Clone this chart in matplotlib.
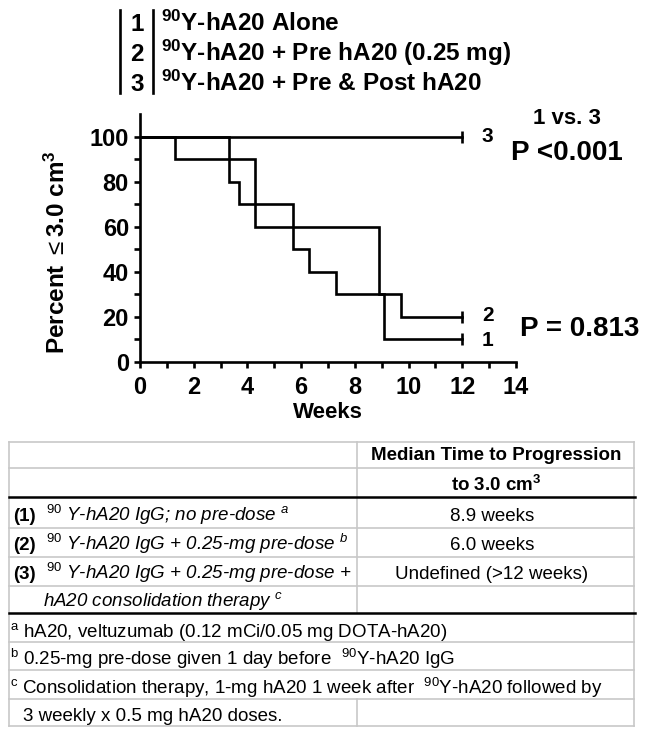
import matplotlib
matplotlib.use("Agg")
import matplotlib.pyplot as plt
from matplotlib.lines import Line2D

plt.rcParams['font.family'] = ['Liberation Sans', 'DejaVu Sans']
plt.rcParams['mathtext.fontset'] = 'custom'
plt.rcParams['mathtext.rm'] = 'Liberation Sans'
plt.rcParams['mathtext.it'] = 'Liberation Sans:italic'
plt.rcParams['mathtext.bf'] = 'Liberation Sans:bold'

# ---------------- data ----------------
weeks_1 = [0, 1.3, 4.3, 8.9, 9.1, 12]
pct_1 = [100, 90, 60, 30, 10, 10]
weeks_2 = [0, 3.3, 3.7, 5.7, 6.3, 7.3, 9.7, 12]
pct_2 = [100, 80, 70, 50, 40, 30, 20, 20]
weeks_3 = [0, 12]
pct_3 = [100, 100]
curve_ids = ["1", "2", "3"]
legend_labels = [r"$^{\mathbf{90}}$Y-hA20 Alone",
                 r"$^{\mathbf{90}}$Y-hA20 + Pre hA20 (0.25 mg)",
                 r"$^{\mathbf{90}}$Y-hA20 + Pre & Post hA20"]
x_ticks = [0, 2, 4, 6, 8, 10, 12, 14]
y_ticks = [0, 20, 40, 60, 80, 100]

table_header = ["Median Time to Progression", r"to 3.0 cm$^{\mathbf{3}}$"]
row_ids = ["(1)", "(2)", "(3)"]
row_texts = [r"$^{\mathit{90}}$ Y-hA20 IgG; no pre-dose $^{\mathit{a}}$",
             r"$^{\mathit{90}}$ Y-hA20 IgG + 0.25-mg pre-dose $^{\mathit{b}}$",
             r"$^{\mathit{90}}$ Y-hA20 IgG + 0.25-mg pre-dose +"]
row_cont = r"hA20 consolidation therapy $^{\mathit{c}}$"
row_medians = ["8.9 weeks", "6.0 weeks", "Undefined (>12 weeks)"]
footnotes = [r"$^{\mathrm{a}}$ hA20, veltuzumab (0.12 mCi/0.05 mg DOTA-hA20)",
             r"$^{\mathrm{b}}$ 0.25-mg pre-dose given 1 day before  $^{\mathrm{90}}$Y-hA20 IgG",
             r"$^{\mathrm{c}}$ Consolidation therapy, 1-mg hA20 1 week after  $^{\mathrm{90}}$Y-hA20 followed by",
             "3 weekly x 0.5 mg hA20 doses."]

# ---------------- figure ----------------
W, H = 645, 736
fig = plt.figure(figsize=(W / 100, H / 100), dpi=100)
fig.patch.set_facecolor('white')


def fx(x):
    return x / W


def fy(y):
    return 1 - y / H


def ftext(x, y, s, **kw):
    fig.text(fx(x), fy(y), s, **kw)


def fline(x0, y0, x1, y1, **kw):
    fig.add_artist(Line2D([fx(x0), fx(x1)], [fy(y0), fy(y1)], transform=fig.transFigure, **kw))


# ---------------- chart ----------------
ax = fig.add_axes([fx(140), fy(362), (516 - 140) / W, (362 - 114) / H])
ax.set_xlim(0, 14)
ax.set_ylim(0, 110)
for sp in ['top', 'right']:
    ax.spines[sp].set_visible(False)
for sp in ['left', 'bottom']:
    ax.spines[sp].set_linewidth(1.9)

lw = 1.9
for xs, ys in [(weeks_3, pct_3), (weeks_1, pct_1), (weeks_2, pct_2)]:
    ax.step(xs, ys, where='post', color='black', lw=lw, solid_joinstyle='miter')
    ax.plot([xs[-1]], [ys[-1]], marker='|', ms=8, mew=lw, color='black')

ax.set_xticks(x_ticks)
ax.set_xticks([1, 3, 5, 7, 9, 11, 13], minor=True)
ax.set_yticks(y_ticks)
ax.set_yticks([10, 30, 50, 70, 90], minor=True)
ax.tick_params(which='both', direction='out', length=4, width=1.9)
ax.tick_params(axis='x', which='major', pad=6, labelsize=17)
ax.tick_params(axis='y', which='major', pad=4, labelsize=17)
for lab in ax.get_xticklabels() + ax.get_yticklabels():
    lab.set_fontweight('bold')

ax.text(12.95, 100, curve_ids[2], fontsize=15, fontweight='bold', va='center', ha='center')
ax.text(12.95, 20.5, curve_ids[1], fontsize=15, fontweight='bold', va='center', ha='center')
ax.text(12.95, 9.5, curve_ids[0], fontsize=15, fontweight='bold', va='center', ha='center')

ftext(567, 119, "1 vs. 3", fontsize=16, fontweight='bold', ha='center', va='center')
ftext(567, 153, "P <0.001", fontsize=20, fontweight='bold', ha='center', va='center')
ftext(580, 329, "P = 0.813", fontsize=20, fontweight='bold', ha='center', va='center')

ftext(328, 412, "Weeks", fontsize=16, fontweight='bold', ha='center', va='center')
ftext(57, 252, r"Percent $\leq$3.0 cm$^{\mathbf{3}}$", fontsize=17.5, fontweight='bold',
      ha='center', va='center', rotation=90)

# ---------------- legend block ----------------
fline(120, 10, 120, 93, color='black', lw=1.9)
fline(153, 10, 153, 93, color='black', lw=1.9)
for cid, lab, yb in zip(curve_ids, legend_labels, [31, 61, 91]):
    ftext(137, yb, cid, fontsize=17.5, fontweight='bold', ha='center', va='baseline')
    ftext(161, yb, lab, fontsize=17.5, fontweight='bold', ha='left', va='baseline')

# ---------------- table ----------------
gray = '#c8c8c8'
L, R, MID = 9, 634, 357
for y in [442, 468, 528, 557, 586, 642, 670, 699, 726]:
    fline(L, y, R, y, color=gray, lw=1.2)
fline(L, 442, L, 726, color=gray, lw=1.2)
fline(R, 442, R, 726, color=gray, lw=1.2)
fline(MID, 442, MID, 613, color=gray, lw=1.2)
fline(MID, 699, MID, 726, color=gray, lw=1.2)
for y in [497, 613]:
    fline(L, y, R + 1, y, color='black', lw=1.8)

fs = 13.5
ftext(496, 460, table_header[0], fontsize=fs, fontweight='bold', ha='center', va='baseline')
ftext(496, 491, table_header[1], fontsize=fs, fontweight='bold', ha='center', va='baseline')
for rid, rt, med, yb in zip(row_ids, row_texts, row_medians, [521, 550, 579]):
    ftext(13, yb, rid, fontsize=fs, fontweight='bold', ha='left', va='baseline')
    ftext(46, yb, rt, fontsize=fs, fontstyle='italic', ha='left', va='baseline')
    ftext(492, yb, med, fontsize=fs, ha='center', va='baseline')
ftext(43, 606, row_cont, fontsize=fs, fontstyle='italic', ha='left', va='baseline')
for fn, xb, yb in zip(footnotes, [10, 10, 10, 23], [637, 665, 694, 721]):
    ftext(xb, yb, fn, fontsize=fs, ha='left', va='baseline')

fig.savefig("out.png", dpi=100, facecolor='white')
